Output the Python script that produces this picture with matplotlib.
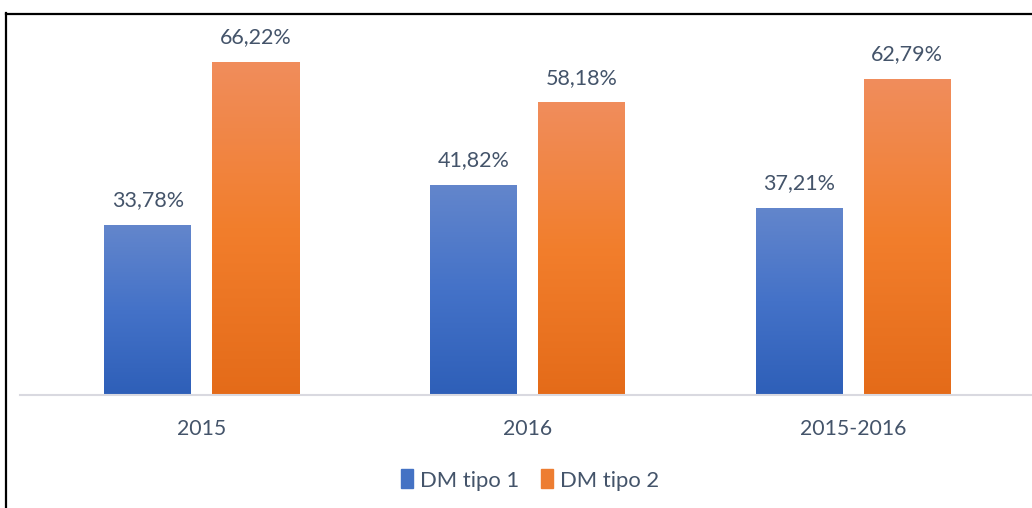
import matplotlib
matplotlib.use("Agg")
import matplotlib.pyplot as plt
import numpy as np
from matplotlib.patches import Rectangle
from matplotlib.colors import LinearSegmentedColormap

categories = ["2015", "2016", "2015-2016"]
series_names = ["DM tipo 1", "DM tipo 2"]
dm1 = [33.78, 41.82, 37.21]
dm2 = [66.22, 58.18, 62.79]
labels1 = ["33,78%", "41,82%", "37,21%"]
labels2 = ["66,22%", "58,18%", "62,79%"]

plt.rcParams['font.family'] = ['Lato', 'DejaVu Sans']
W, H = 1032, 508
fig = plt.figure(figsize=(W/100, H/100), dpi=100)

# axes placement in pixels
ax_left, ax_right = 20, 1032
ax_bottom, ax_top = 395, 14
ax = fig.add_axes([ax_left/W, (H-ax_bottom)/H, (ax_right-ax_left)/W, (ax_bottom-ax_top)/H])

pxu = 325.5
xmin = -(202-ax_left)/pxu
xmax = (ax_right-202)/pxu
ax.set_xlim(xmin, xmax)
ax.set_ylim(0, (ax_bottom-ax_top)/5.03)

x = np.arange(len(categories))
bw = 87/pxu
off = (87+21)/2/pxu

cmap_blue = LinearSegmentedColormap.from_list("b", ["#2e5fb8", "#4472c8", "#6386cc"])
cmap_orange = LinearSegmentedColormap.from_list("o", ["#e46b19", "#f27e2c", "#f08d5c"])
grad = np.linspace(0, 1, 256).reshape(-1, 1)

label_color = "#44546a"
for vals, labs, sign, cmap, col in [(dm1, labels1, -1, cmap_blue, "#4472c4"), (dm2, labels2, 1, cmap_orange, "#ed7d31")]:
    bars = ax.bar(x + sign*off, vals, width=bw, color=col, zorder=2)
    for b, lab in zip(bars, labs):
        x0, y0, w, h = b.get_x(), b.get_y(), b.get_width(), b.get_height()
        im = ax.imshow(grad, extent=[x0, x0+w, y0, y0+h], origin='lower', aspect='auto', cmap=cmap, zorder=3)
        im.set_clip_path(b)
        ax.annotate(lab, (x0+w/2, h), xytext=(0, 10.5), textcoords='offset points',
                    ha='center', va='bottom', fontsize=15.5, color=label_color)

ax.set_xticks(x)
ax.set_xticklabels(categories, fontsize=15.3, color=label_color)
ax.tick_params(axis='x', length=0, pad=17)
ax.set_yticks([])
for s in ['top', 'right', 'left']:
    ax.spines[s].set_visible(False)
ax.spines['bottom'].set_color('#d9d9e0')
ax.spines['bottom'].set_linewidth(1.5)
ax.spines['bottom'].set_zorder(4)

# legend
handles = [Rectangle((0, 0), 1, 1, color="#4472c4"), Rectangle((0, 0), 1, 1, color="#ed7d31")]
fig.legend(handles, series_names, loc='center', bbox_to_anchor=(530/W, (H-480)/H), ncol=2,
           frameon=False, fontsize=15.8, labelcolor=label_color, handlelength=0.55, handleheight=0.95,
           handletextpad=0.3, columnspacing=1.0)

# frame border
fig.add_artist(plt.Line2D([5.5/W, 5.5/W], [0, (H-13)/H], color='black', lw=1.6, transform=fig.transFigure))
fig.add_artist(plt.Line2D([5.5/W, 1], [(H-13.5)/H, (H-13.5)/H], color='black', lw=1.6, transform=fig.transFigure))

fig.savefig("out.png", dpi=100)
